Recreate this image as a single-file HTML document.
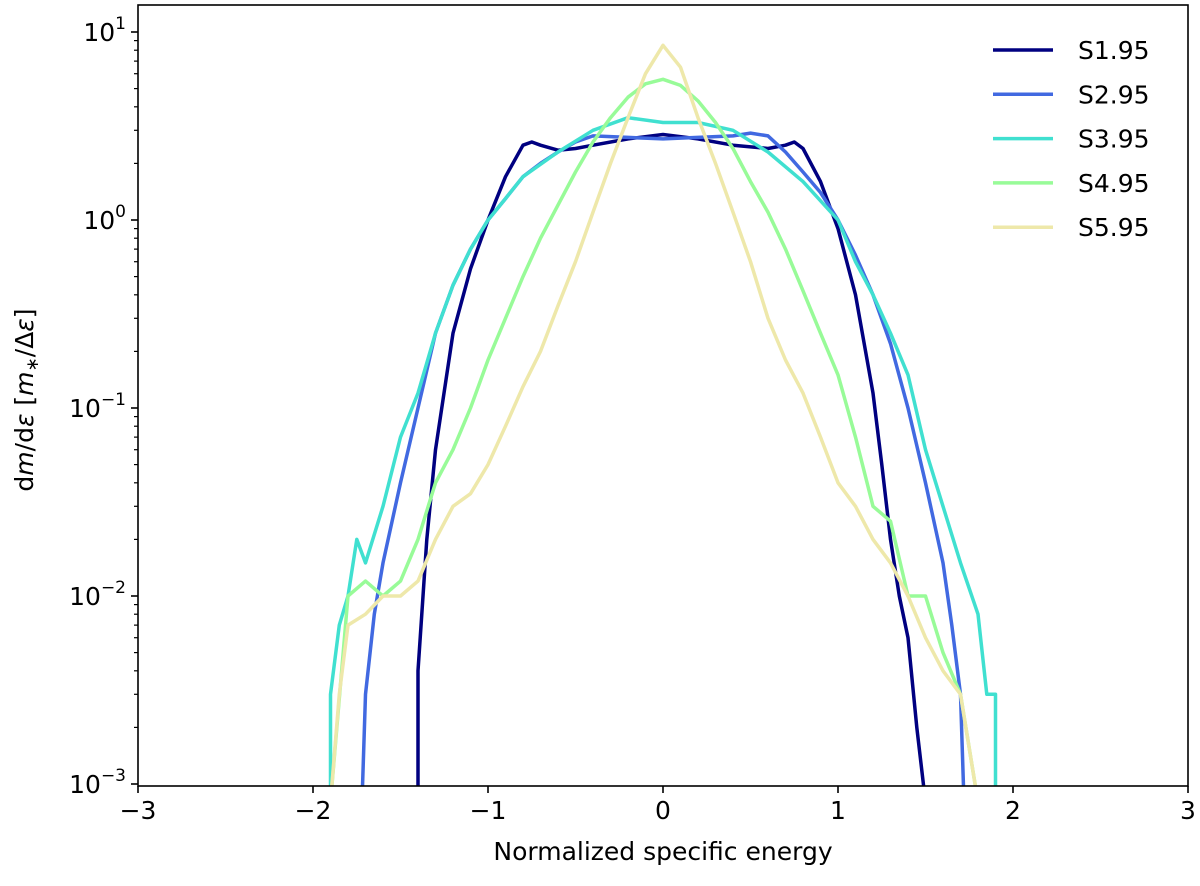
<!DOCTYPE html>
<html><head><meta charset="utf-8"><style>
html,body{margin:0;padding:0;background:#fff}
svg{display:block;font-family:"DejaVu Sans","Liberation Sans",sans-serif}
</style></head><body>
<svg id="chart" width="1200" height="886" viewBox="0 0 1200 886" xmlns="http://www.w3.org/2000/svg">
<defs><clipPath id="clip"><rect x="138" y="5" width="1050" height="781"/></clipPath></defs>
<g id="plot" clip-path="url(#clip)"></g>
<g id="axes"></g>
<g id="legend"></g>
</svg>
<script>
const seriesNames = ["S1.95","S2.95","S3.95","S4.95","S5.95"];
const seriesColors = ["#000080","#4169e1","#40e0d0","#98fb98","#eee8aa"];
const xTicks = [-3,-2,-1,0,1,2,3];
const yTickExps = [1,0,-1,-2,-3];
const s1x = [-1.4,-1.4,-1.35,-1.3,-1.2,-1.1,-1.0,-0.9,-0.8,-0.75,-0.7,-0.6,-0.5,-0.4,-0.2,0,0.2,0.4,0.6,0.7,0.75,0.8,0.9,1.0,1.1,1.2,1.25,1.3,1.35,1.4,1.45,1.5];
const s1y = [0.0008,0.004,0.02,0.06,0.25,0.55,1.0,1.7,2.5,2.6,2.5,2.35,2.4,2.5,2.7,2.85,2.7,2.5,2.4,2.5,2.6,2.4,1.6,0.9,0.4,0.12,0.05,0.02,0.01,0.006,0.002,0.0008];
const s2x = [-1.72,-1.7,-1.65,-1.6,-1.5,-1.4,-1.3,-1.2,-1.1,-1.0,-0.9,-0.8,-0.7,-0.6,-0.5,-0.4,-0.2,0,0.2,0.4,0.5,0.6,0.7,0.8,0.9,1.0,1.1,1.2,1.3,1.4,1.5,1.6,1.65,1.7,1.72];
const s2y = [0.0008,0.003,0.008,0.015,0.04,0.1,0.25,0.45,0.7,1.0,1.3,1.7,2.0,2.3,2.6,2.8,2.75,2.7,2.75,2.8,2.9,2.8,2.3,1.8,1.4,1.0,0.65,0.4,0.22,0.1,0.04,0.015,0.007,0.003,0.0008];
const s3x = [-1.9,-1.9,-1.85,-1.8,-1.75,-1.7,-1.6,-1.5,-1.4,-1.3,-1.2,-1.1,-1.0,-0.9,-0.8,-0.6,-0.4,-0.2,0,0.2,0.4,0.6,0.8,1.0,1.1,1.2,1.3,1.4,1.5,1.6,1.7,1.8,1.85,1.9,1.9];
const s3y = [0.0008,0.003,0.007,0.01,0.02,0.015,0.03,0.07,0.12,0.25,0.45,0.7,1.0,1.3,1.7,2.3,3.0,3.5,3.3,3.3,3.0,2.3,1.6,1.0,0.6,0.4,0.25,0.15,0.06,0.03,0.015,0.008,0.003,0.003,0.0008];
const s4x = [-1.9,-1.8,-1.7,-1.6,-1.5,-1.4,-1.3,-1.2,-1.1,-1.0,-0.9,-0.8,-0.7,-0.6,-0.5,-0.4,-0.3,-0.2,-0.1,0,0.1,0.2,0.3,0.4,0.5,0.6,0.7,0.8,0.9,1.0,1.1,1.2,1.3,1.4,1.5,1.6,1.7,1.8];
const s4y = [0.0008,0.01,0.012,0.01,0.012,0.02,0.04,0.06,0.1,0.18,0.3,0.5,0.8,1.2,1.8,2.6,3.5,4.5,5.3,5.6,5.2,4.3,3.3,2.4,1.6,1.1,0.7,0.42,0.25,0.15,0.07,0.03,0.025,0.01,0.01,0.005,0.003,0.0008];
const s5x = [-1.9,-1.85,-1.8,-1.7,-1.6,-1.5,-1.4,-1.3,-1.2,-1.1,-1.0,-0.9,-0.8,-0.7,-0.6,-0.5,-0.4,-0.3,-0.2,-0.1,0,0.1,0.2,0.3,0.4,0.5,0.6,0.7,0.8,0.9,1.0,1.1,1.2,1.3,1.4,1.5,1.6,1.7,1.8];
const s5y = [0.0008,0.003,0.007,0.008,0.01,0.01,0.012,0.02,0.03,0.035,0.05,0.08,0.13,0.2,0.35,0.6,1.1,2.0,3.5,6,8.5,6.5,3.5,2.0,1.1,0.6,0.3,0.18,0.12,0.07,0.04,0.03,0.02,0.015,0.01,0.006,0.004,0.003,0.0008];

const NS="http://www.w3.org/2000/svg";
const X0=138,X1=1188,Y0=5,Y1=786;
const xs = v => 663 + v*175;
const ys = v => 220 - 188*Math.log10(v);
function mk(tag, attrs, parent){const e=document.createElementNS(NS,tag);for(const k in attrs)e.setAttribute(k,attrs[k]);parent.appendChild(e);return e;}
const plot=document.getElementById('plot'), axes=document.getElementById('axes'), legend=document.getElementById('legend');
const allX=[s1x,s2x,s3x,s4x,s5x], allY=[s1y,s2y,s3y,s4y,s5y];
allX.forEach((xa,i)=>{
  const d=xa.map((x,j)=>(j?'L':'M')+xs(x).toFixed(1)+','+ys(allY[i][j]).toFixed(1)).join(' ');
  const p=mk('path',{d:d,fill:'none',stroke:seriesColors[i],'stroke-width':3.5,'stroke-linejoin':'round'},plot);
  
  
});
const frame=mk('rect',{x:X0,y:Y0,width:X1-X0,height:Y1-Y0,fill:'none',stroke:'#000','stroke-width':1.6},axes);


xTicks.forEach(t=>{
  const x=xs(t);
  mk('line',{x1:x,x2:x,y1:Y1,y2:Y1+7,stroke:'#000','stroke-width':1.6},axes);
  const tx=mk('text',{x:x,y:Y1+33,'font-size':25,'text-anchor':'middle'},axes);
  tx.textContent=(t<0?'\u2212':'')+Math.abs(t);
  
  
});
yTickExps.forEach(e=>{
  const y=ys(Math.pow(10,e));
  mk('line',{x1:X0-7,x2:X0,y1:y,y2:y,stroke:'#000','stroke-width':1.6},axes);
  const tx=mk('text',{x:X0-12,y:y+9,'font-size':25,'text-anchor':'end'},axes);
  tx.innerHTML='10<tspan dy="-12" font-size="17">'+(e<0?'\u2212':'')+Math.abs(e)+'</tspan>';
  
  
  if(e>-3) for(let m=2;m<10;m++){const yy=ys(m*Math.pow(10,e-1));if(yy>Y0&&yy<Y1)mk('line',{x1:X0-4,x2:X0,y1:yy,y2:yy,stroke:'#000','stroke-width':1.2},axes);}
});
for(let m=2;m<10;m++){const yy=ys(m*10);if(yy>Y0)mk('line',{x1:X0-4,x2:X0,y1:yy,y2:yy,stroke:'#000','stroke-width':1.2},axes);}
const xl=mk('text',{x:663,y:860,'font-size':25,'text-anchor':'middle'},axes);
xl.textContent='Normalized specific energy';


const yl=mk('text',{x:0,y:0,'font-size':25,'text-anchor':'middle',transform:'translate(33,400) rotate(-90)'},axes);
yl.innerHTML='d<tspan font-style="italic">m</tspan>/d<tspan font-style="italic">ε</tspan> [<tspan font-style="italic">m</tspan><tspan font-size="17" dy="5">∗</tspan><tspan dy="-5">/Δ</tspan><tspan font-style="italic">ε</tspan>]';


seriesNames.forEach((n,i)=>{
  const y=50+i*44.3;
  const g=mk('g',{},legend);
  
  
  mk('line',{x1:993,x2:1053,y1:y,y2:y,stroke:seriesColors[i],'stroke-width':3.5},g);
  const t=mk('text',{x:1078,y:y+9,'font-size':25},g);
  t.textContent=n;
});
</script>
</body></html>
